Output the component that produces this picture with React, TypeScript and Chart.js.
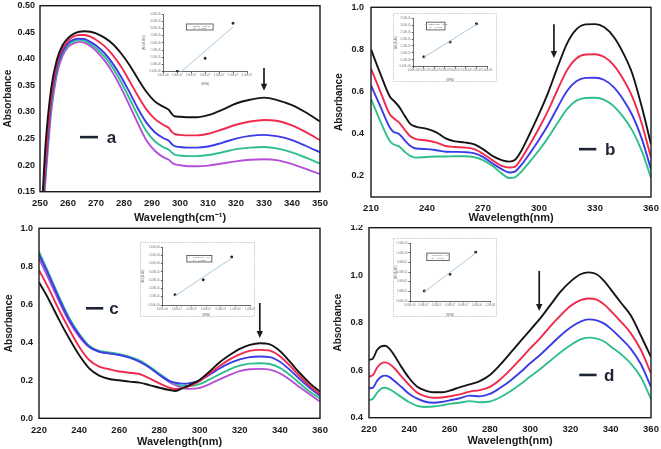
import React, { useEffect, useRef } from "react";
import { Chart, registerables } from "chart.js";
Chart.register(...registerables);

const FONT = "'Liberation Sans', Arial, Helvetica, sans-serif";
const INK = "#1a1a1a";
const SERIES_COLORS = ["#151515", "#f02a4c", "#3b3be8", "#2fbf8c", "#b54fd8"];

// ---------- Panel a ----------
const waveA = [251, 252, 254, 256, 258, 260, 262, 264, 266, 268, 270, 273, 276, 279, 282, 285, 288, 291, 294, 296, 297, 298, 300, 303, 306, 310, 315, 320, 325, 330, 335, 340, 345, 350];
const aBlack = [0.15, 0.24, 0.345, 0.398, 0.425, 0.439, 0.447, 0.451, 0.452, 0.451, 0.448, 0.44, 0.428, 0.41, 0.388, 0.362, 0.338, 0.32, 0.31, 0.304, 0.297, 0.292, 0.291, 0.29, 0.29, 0.294, 0.304, 0.316, 0.323, 0.327, 0.322, 0.313, 0.299, 0.282];
const aRed = [0.13, 0.21, 0.33, 0.39, 0.419, 0.434, 0.442, 0.445, 0.445, 0.442, 0.436, 0.424, 0.407, 0.385, 0.358, 0.33, 0.305, 0.287, 0.276, 0.27, 0.263, 0.259, 0.257, 0.256, 0.256, 0.259, 0.267, 0.276, 0.282, 0.285, 0.283, 0.275, 0.262, 0.247];
const aBlue = [0.12, 0.195, 0.32, 0.383, 0.413, 0.429, 0.436, 0.438, 0.437, 0.432, 0.425, 0.411, 0.391, 0.366, 0.337, 0.306, 0.28, 0.262, 0.251, 0.246, 0.24, 0.236, 0.234, 0.233, 0.233, 0.235, 0.242, 0.25, 0.255, 0.257, 0.254, 0.247, 0.236, 0.224];
const aGreen = [0.11, 0.185, 0.31, 0.378, 0.41, 0.426, 0.433, 0.436, 0.434, 0.428, 0.42, 0.404, 0.383, 0.356, 0.325, 0.293, 0.264, 0.245, 0.234, 0.229, 0.224, 0.22, 0.218, 0.217, 0.217, 0.219, 0.224, 0.23, 0.233, 0.234, 0.231, 0.224, 0.214, 0.203];
const aMagenta = [0.1, 0.175, 0.3, 0.37, 0.405, 0.422, 0.429, 0.432, 0.43, 0.424, 0.415, 0.397, 0.374, 0.345, 0.312, 0.278, 0.247, 0.227, 0.215, 0.21, 0.205, 0.202, 0.2, 0.198, 0.198, 0.199, 0.203, 0.207, 0.21, 0.211, 0.209, 0.202, 0.193, 0.183];

// ---------- Panel b ----------
const waveB = [210, 215, 220, 222, 225, 228, 231, 234, 240, 245, 250, 255, 260, 265, 270, 275, 280, 284, 287, 290, 295, 300, 305, 310, 315, 320, 325, 330, 335, 340, 345, 350, 355, 360];
const bBlack = [0.8, 0.685, 0.578, 0.558, 0.529, 0.486, 0.447, 0.434, 0.423, 0.407, 0.378, 0.364, 0.359, 0.351, 0.327, 0.295, 0.275, 0.268, 0.275, 0.311, 0.399, 0.494, 0.598, 0.717, 0.828, 0.895, 0.919, 0.92, 0.905, 0.86, 0.785, 0.685, 0.53, 0.35];
const bRed = [0.709, 0.6, 0.494, 0.475, 0.454, 0.42, 0.388, 0.375, 0.368, 0.358, 0.342, 0.337, 0.335, 0.328, 0.305, 0.275, 0.248, 0.24, 0.243, 0.275, 0.348, 0.426, 0.512, 0.61, 0.701, 0.757, 0.776, 0.777, 0.764, 0.726, 0.661, 0.575, 0.45, 0.287];
const bBlue = [0.629, 0.53, 0.431, 0.41, 0.399, 0.37, 0.343, 0.33, 0.327, 0.322, 0.315, 0.314, 0.313, 0.308, 0.29, 0.26, 0.232, 0.216, 0.22, 0.246, 0.306, 0.372, 0.444, 0.526, 0.603, 0.649, 0.665, 0.666, 0.655, 0.621, 0.564, 0.488, 0.378, 0.232];
const bGreen = [0.566, 0.46, 0.367, 0.35, 0.34, 0.315, 0.295, 0.287, 0.29, 0.292, 0.292, 0.293, 0.293, 0.29, 0.275, 0.248, 0.212, 0.19, 0.193, 0.215, 0.267, 0.322, 0.383, 0.452, 0.517, 0.557, 0.57, 0.571, 0.561, 0.531, 0.481, 0.415, 0.32, 0.192];

// ---------- Panel c ----------
const waveC = [220, 225, 230, 235, 240, 245, 250, 255, 260, 265, 270, 275, 280, 285, 288, 290, 293, 295, 300, 305, 310, 315, 320, 325, 330, 335, 340, 345, 350, 355, 360];
const cBlack = [0.716, 0.623, 0.518, 0.421, 0.333, 0.263, 0.225, 0.207, 0.2, 0.193, 0.188, 0.175, 0.161, 0.149, 0.144, 0.151, 0.165, 0.175, 0.202, 0.246, 0.295, 0.333, 0.365, 0.386, 0.395, 0.389, 0.354, 0.298, 0.237, 0.184, 0.14];
const cRed = [0.78, 0.68, 0.57, 0.47, 0.377, 0.307, 0.272, 0.258, 0.246, 0.24, 0.233, 0.21, 0.184, 0.161, 0.154, 0.155, 0.162, 0.17, 0.195, 0.235, 0.275, 0.31, 0.337, 0.355, 0.36, 0.356, 0.327, 0.277, 0.22, 0.17, 0.126];
const cBlue = [0.863, 0.75, 0.63, 0.52, 0.439, 0.377, 0.351, 0.342, 0.333, 0.319, 0.298, 0.267, 0.228, 0.196, 0.187, 0.184, 0.182, 0.185, 0.2, 0.23, 0.262, 0.29, 0.31, 0.322, 0.325, 0.322, 0.298, 0.255, 0.205, 0.16, 0.118];
const cGreen = [0.877, 0.76, 0.64, 0.53, 0.445, 0.382, 0.355, 0.347, 0.338, 0.325, 0.305, 0.273, 0.234, 0.197, 0.183, 0.175, 0.17, 0.17, 0.18, 0.205, 0.232, 0.258, 0.277, 0.288, 0.29, 0.286, 0.265, 0.228, 0.183, 0.14, 0.105];
const cMagenta = [0.842, 0.73, 0.615, 0.51, 0.43, 0.375, 0.35, 0.342, 0.335, 0.322, 0.302, 0.27, 0.23, 0.19, 0.174, 0.165, 0.157, 0.155, 0.16, 0.18, 0.205, 0.228, 0.248, 0.258, 0.26, 0.256, 0.237, 0.203, 0.163, 0.125, 0.088];

// ---------- Panel d ----------
const waveD = [220, 222, 224, 226, 228, 230, 233, 236, 240, 244, 248, 252, 256, 260, 265, 270, 275, 280, 285, 290, 295, 300, 305, 310, 315, 320, 325, 329, 333, 337, 340, 345, 350, 355, 360];
const dBlack = [0.643, 0.65, 0.685, 0.7, 0.703, 0.692, 0.657, 0.615, 0.566, 0.53, 0.514, 0.507, 0.507, 0.514, 0.528, 0.54, 0.554, 0.58, 0.622, 0.671, 0.72, 0.769, 0.818, 0.874, 0.93, 0.973, 1.004, 1.012, 1.004, 0.973, 0.94, 0.885, 0.83, 0.745, 0.655];
const dRed = [0.573, 0.58, 0.61, 0.628, 0.633, 0.627, 0.605, 0.575, 0.537, 0.505, 0.49, 0.484, 0.485, 0.49, 0.498, 0.51, 0.516, 0.53, 0.56, 0.6, 0.645, 0.692, 0.735, 0.785, 0.83, 0.87, 0.895, 0.902, 0.897, 0.875, 0.85, 0.805, 0.755, 0.685, 0.587];
const dBlue = [0.524, 0.527, 0.555, 0.572, 0.577, 0.572, 0.552, 0.53, 0.5, 0.48, 0.467, 0.463, 0.466, 0.473, 0.482, 0.493, 0.49, 0.5, 0.525, 0.555, 0.59, 0.629, 0.665, 0.705, 0.745, 0.78, 0.805, 0.814, 0.81, 0.795, 0.775, 0.735, 0.69, 0.625, 0.53];
const dGreen = [0.474, 0.48, 0.505, 0.522, 0.526, 0.52, 0.505, 0.487, 0.465, 0.45, 0.445, 0.447, 0.452, 0.458, 0.463, 0.47, 0.465, 0.468, 0.485, 0.51, 0.54, 0.573, 0.605, 0.64, 0.675, 0.705, 0.73, 0.737, 0.733, 0.72, 0.7, 0.668, 0.628, 0.57, 0.479];

// ---------- Insets ----------
const insetAX = [1.0e-7, 3.0e-7, 5.0e-7];
const insetAY = [0.2e-6, 9.3e-6, 33.6e-6];
const insetAXTicks = [0, 1e-7, 2e-7, 3e-7, 4e-7, 5e-7, 6e-7];
const insetAYTicks = [0, 5e-6, 1e-5, 1.5e-5, 2e-5, 2.5e-5, 3e-5, 3.5e-5, 4e-5];

const insetBX = [2.0e-7, 7.0e-7, 1.2e-6];
const insetBY = [0.0715, 0.1785, 0.31];
const insetBXTicks = [0, 2e-7, 4e-7, 6e-7, 8e-7, 1e-6, 1.2e-6, 1.4e-6];
const insetBYTicks = [0, 0.05, 0.1, 0.15, 0.2, 0.25, 0.3, 0.35];

const insetCX = [1.74e-7, 5.6e-7, 9.5e-7];
const insetCY = [0.248, 0.608, 1.16];
const insetCXTicks = [0, 2e-7, 4e-7, 6e-7, 8e-7, 1e-6, 1.2e-6];
const insetCYTicks = [0, 0.2, 0.4, 0.6, 0.8, 1.0, 1.2, 1.4];

const insetDX = [2.14e-7, 6.0e-7, 9.86e-7];
const insetDY = [0.208, 0.556, 1.014];
const insetDXTicks = [0, 2e-7, 4e-7, 6e-7, 8e-7, 1e-6, 1.2e-6];
const insetDYTicks = [0, 0.2, 0.4, 0.6, 0.8, 1.0, 1.2];

function fmtE(v: number) {
  if (Math.abs(v) < 1e-15) return "0.00E+00";
  const [m, e] = v.toExponential(2).split("e");
  const sign = e[0] === "-" ? "-" : "+";
  return `${m}E${sign}${e.replace(/[+-]/, "").padStart(2, "0")}`;
}

type PanelSpec = {
  x: number[];
  series: number[][];
  xMin: number; xMax: number; xStep: number;
  yMin: number; yMax: number; yStep: number; yDec: number; yHideBelow?: number;
  xTitle: string;
  yW: number; xH: number; padTop: number; padRight: number;
  xTitleOff: number; yTitleOff: number; yTickPad: number;
  arrow: [number, number, number];
  label: { text: string; y: number; x1: number; x2: number; tx: number };
};

function buildPanel(p: PanelSpec): any {
  const decor = {
    id: "panelDecor",
    afterDatasetsDraw(chart: any) {
      const { ctx, chartArea: ca } = chart;
      const xs = chart.scales.x, ys = chart.scales.y;
      ctx.save();
      ctx.strokeStyle = INK;
      ctx.lineWidth = 1.4;
      ctx.strokeRect(ca.left, ca.top, ca.right - ca.left, ca.bottom - ca.top);
      // arrow
      const ax = xs.getPixelForValue(p.arrow[0]);
      const ay1 = ys.getPixelForValue(p.arrow[1]);
      const ay2 = ys.getPixelForValue(p.arrow[2]);
      const head = 7, hw = 3.2;
      ctx.lineWidth = 1.7;
      ctx.fillStyle = INK;
      ctx.beginPath(); ctx.moveTo(ax, ay1); ctx.lineTo(ax, ay2 - head + 1); ctx.stroke();
      ctx.beginPath(); ctx.moveTo(ax - hw, ay2 - head); ctx.lineTo(ax + hw, ay2 - head); ctx.lineTo(ax, ay2); ctx.closePath(); ctx.fill();
      // label
      const ly = ys.getPixelForValue(p.label.y);
      ctx.strokeStyle = "#1c2433";
      ctx.lineWidth = 2.6;
      ctx.beginPath();
      ctx.moveTo(xs.getPixelForValue(p.label.x1), ly);
      ctx.lineTo(xs.getPixelForValue(p.label.x2), ly);
      ctx.stroke();
      ctx.fillStyle = "#1c2433";
      ctx.font = `bold 17px ${FONT}`;
      ctx.textAlign = "left";
      ctx.textBaseline = "alphabetic";
      ctx.fillText(p.label.text, xs.getPixelForValue(p.label.tx), ly + 6);
      ctx.restore();
    },
  };
  return {
    type: "line",
    data: {
      datasets: p.series.map((ys, i) => ({
        data: p.x.map((xv, j) => ({ x: xv, y: ys[j] })),
        borderColor: SERIES_COLORS[i],
        borderWidth: 1.9,
        pointRadius: 0,
        cubicInterpolationMode: "monotone",
        fill: false,
      })),
    },
    plugins: [decor],
    options: {
      animation: false,
      responsive: false,
      events: [],
      layout: { padding: { top: p.padTop, right: p.padRight, left: 0, bottom: 0 } },
      plugins: { legend: { display: false }, tooltip: { enabled: false } },
      scales: {
        x: {
          type: "linear",
          min: p.xMin,
          max: p.xMax,
          ticks: { stepSize: p.xStep, font: { family: FONT, size: 9.5, weight: "bold" }, color: INK, padding: 6, maxRotation: 0, autoSkip: false },
          grid: { display: false, drawTicks: false },
          border: { display: false },
          title: { display: true, text: p.xTitle, color: INK, font: { family: FONT, size: 11, weight: "bold" }, padding: { top: 0, bottom: Math.max(0, p.xTitleOff - 6.6) } },
          afterFit: (s: any) => { s.height = p.xH; s.paddingLeft = 0; s.paddingRight = 0; },
        },
        y: {
          type: "linear",
          min: p.yMin,
          max: p.yMax,
          afterBuildTicks: (axis: any) => {
            if (p.yHideBelow !== undefined) axis.ticks = axis.ticks.filter((t: any) => t.value >= p.yHideBelow!);
          },
          ticks: { stepSize: p.yStep, font: { family: FONT, size: 9, weight: "bold" }, color: INK, padding: p.yTickPad, callback: (v: any) => Number(v).toFixed(p.yDec) },
          grid: { display: false, drawTicks: false },
          border: { display: false },
          title: { display: true, text: "Absorbance", color: INK, font: { family: FONT, size: 10, weight: "bold" }, padding: { top: Math.max(0, p.yTitleOff - 6), bottom: 0 } },
          afterFit: (s: any) => { s.width = p.yW; s.paddingTop = 0; s.paddingBottom = 0; },
        },
      },
    },
  };
}

type InsetSpec = {
  px: number[]; py: number[]; xTicks: number[]; yTicks: number[];
  yW: number; xH: number; padTop: number; padRight: number; border: boolean;
  legend: [number, number, number, number];
  eq: string; r2: string; yTitle: string;
};

function buildInset(p: InsetSpec): any {
  const n = p.px.length;
  const mx = p.px.reduce((a, b) => a + b, 0) / n;
  const my = p.py.reduce((a, b) => a + b, 0) / n;
  let sxy = 0, sxx = 0;
  for (let i = 0; i < n; i++) { sxy += (p.px[i] - mx) * (p.py[i] - my); sxx += (p.px[i] - mx) ** 2; }
  const slope = sxy / sxx;
  const icpt = my - slope * mx;
  const trend = [p.px[0], p.px[n - 1]].map((xv) => ({ x: xv, y: icpt + slope * xv }));
  const decor = {
    id: "insetDecor",
    afterDraw(chart: any) {
      const { ctx, chartArea: ca, width, height } = chart;
      ctx.save();
      if (p.border) {
        ctx.strokeStyle = "#cfcfcf";
        ctx.lineWidth = 1;
        ctx.setLineDash([2, 1]);
        ctx.strokeRect(0.5, 0.5, width - 1, height - 1);
        ctx.setLineDash([]);
      }
      const w = ca.right - ca.left, h = ca.bottom - ca.top;
      const [fx, fy, fw, fh] = p.legend;
      const lx = ca.left + fx * w, ly = ca.top + fy * h, lw = fw * w, lh = fh * h;
      ctx.fillStyle = "#fff";
      ctx.fillRect(lx, ly, lw, lh);
      ctx.strokeStyle = "#444";
      ctx.lineWidth = 0.8;
      ctx.strokeRect(lx, ly, lw, lh);
      ctx.fillStyle = "#555";
      ctx.font = `2.4px ${FONT}`;
      ctx.textAlign = "center";
      ctx.textBaseline = "middle";
      ctx.fillText(p.eq, lx + lw / 2, ly + lh * 0.32);
      ctx.fillText(p.r2, lx + lw / 2, ly + lh * 0.7);
      ctx.restore();
    },
  };
  const tickFont = { family: FONT, size: 2.6 };
  return {
    type: "scatter",
    data: {
      datasets: [
        { type: "line", data: trend, borderColor: "#a9c7dd", borderWidth: 1, pointRadius: 0, fill: false },
        { data: p.px.map((xv, i) => ({ x: xv, y: p.py[i] })), backgroundColor: "#222", borderColor: "#222", pointRadius: 1.2, pointStyle: "rect" },
      ],
    },
    plugins: [decor],
    options: {
      animation: false,
      responsive: false,
      events: [],
      layout: { padding: { top: p.padTop, right: p.padRight, left: 0, bottom: 0 } },
      plugins: { legend: { display: false }, tooltip: { enabled: false } },
      scales: {
        x: {
          type: "linear",
          min: p.xTicks[0],
          max: p.xTicks[p.xTicks.length - 1],
          afterBuildTicks: (axis: any) => { axis.ticks = p.xTicks.map((v) => ({ value: v })); },
          ticks: { font: tickFont, color: "#777", padding: 1, maxRotation: 0, autoSkip: false, callback: (v: any) => fmtE(Number(v)) },
          grid: { display: true, drawOnChartArea: false, drawTicks: true, tickLength: 1.5, color: "#555" },
          border: { color: "#444", width: 0.8 },
          title: { display: true, text: "[BPA]", color: "#777", font: { family: FONT, size: 3 }, padding: { top: 0.5, bottom: 0.5 } },
          afterFit: (s: any) => { s.height = p.xH; s.paddingLeft = 0; s.paddingRight = 0; },
        },
        y: {
          type: "linear",
          min: p.yTicks[0],
          max: p.yTicks[p.yTicks.length - 1],
          afterBuildTicks: (axis: any) => { axis.ticks = p.yTicks.map((v) => ({ value: v })); },
          ticks: { font: tickFont, color: "#777", padding: 1, autoSkip: false, callback: (v: any) => fmtE(Number(v)) },
          grid: { display: true, drawOnChartArea: false, drawTicks: true, tickLength: 1.5, color: "#555" },
          border: { color: "#444", width: 0.8 },
          title: { display: true, text: p.yTitle, color: "#777", font: { family: FONT, size: 3 }, padding: { top: 1, bottom: 0 } },
          afterFit: (s: any) => { s.width = p.yW; s.paddingTop = 0; s.paddingBottom = 0; },
        },
      },
    },
  };
}

function ChartCanvas({ left, top, w, h, make, bg }: { left: number; top: number; w: number; h: number; make: () => any; bg?: string }) {
  const ref = useRef<HTMLCanvasElement>(null);
  useEffect(() => {
    const chart = new Chart(ref.current as HTMLCanvasElement, make());
    return () => chart.destroy();
  }, []);
  return (
    <canvas
      ref={ref}
      width={w}
      height={h}
      style={{ position: "absolute", left, top, width: w, height: h, background: bg || "transparent" }}
    />
  );
}

const panelA: PanelSpec = {
  x: waveA, series: [aBlack, aRed, aBlue, aGreen, aMagenta],
  xMin: 250, xMax: 350, xStep: 10, yMin: 0.15, yMax: 0.5, yStep: 0.05, yDec: 2,
  xTitle: "Wavelength(cm\u207B\u00B9)",
  yW: 40, xH: 33.3, padTop: 5.7, padRight: 10, xTitleOff: 7, yTitleOff: 8.5, yTickPad: 5,
  arrow: [330, 0.383, 0.34],
  label: { text: "a", y: 0.2527, x1: 264.3, x2: 270.7, tx: 273.8 },
};
const panelB: PanelSpec = {
  x: waveB, series: [bBlack, bRed, bBlue, bGreen],
  xMin: 210, xMax: 360, xStep: 30, yMin: 0.1, yMax: 1.0, yStep: 0.2, yDec: 1, yHideBelow: 0.15,
  xTitle: "Wavelength(nm)",
  yW: 41, xH: 28, padTop: 7.3, padRight: 10, xTitleOff: 7, yTitleOff: 9.5, yTickPad: 7,
  arrow: [308, 0.92, 0.76],
  label: { text: "b", y: 0.327, x1: 321.4, x2: 330.7, tx: 335.4 },
};
const panelC: PanelSpec = {
  x: waveC, series: [cBlack, cRed, cBlue, cGreen, cMagenta],
  xMin: 220, xMax: 360, xStep: 20, yMin: 0, yMax: 1.0, yStep: 0.2, yDec: 1,
  xTitle: "Wavelength(nm)",
  yW: 39, xH: 30.7, padTop: 3.3, padRight: 10, xTitleOff: 7.3, yTitleOff: 9, yTickPad: 6,
  arrow: [330, 0.607, 0.423],
  label: { text: "c", y: 0.579, x1: 243.4, x2: 252, tx: 255 },
};
const panelD: PanelSpec = {
  x: waveD, series: [dBlack, dRed, dBlue, dGreen],
  xMin: 220, xMax: 360, xStep: 20, yMin: 0.4, yMax: 1.2, yStep: 0.2, yDec: 1,
  xTitle: "Wavelength(nm)",
  yW: 39, xH: 31.3, padTop: 2.7, padRight: 10, xTitleOff: 8, yTitleOff: 8.5, yTickPad: 6,
  arrow: [304.5, 1.018, 0.849],
  label: { text: "d", y: 0.58, x1: 324.4, x2: 333, tx: 336.7 },
};

const insetA: InsetSpec = {
  px: insetAX, py: insetAY, xTicks: insetAXTicks, yTicks: insetAYTicks,
  yW: 22.3, xH: 14.3, padTop: 8, padRight: 3.7, border: false,
  legend: [0.275, 0.173, 0.32, 0.104], eq: "y = 83.25x - 6.0E-06", r2: "R\u00B2 = 0.9025", yTitle: "[A0/(A-A0)]",
};
const insetB: InsetSpec = {
  px: insetBX, py: insetBY, xTicks: insetBXTicks, yTicks: insetBYTicks,
  yW: 20.3, xH: 15.3, padTop: 5.3, padRight: 10, border: true,
  legend: [0.18, 0.08, 0.25, 0.16], eq: "y = 2.38E+05x + 0.02", r2: "R\u00B2 = 0.9986", yTitle: "A0/(A-A0)",
};
const insetC: InsetSpec = {
  px: insetCX, py: insetCY, xTicks: insetCXTicks, yTicks: insetCYTicks,
  yW: 22.3, xH: 12, padTop: 3.7, padRight: 5, border: true,
  legend: [0.28, 0.145, 0.285, 0.113], eq: "y = 1.17E+06x - 0.0", r2: "R\u00B2 = 0.9832", yTitle: "A0/(A-A0)",
};
const insetD: InsetSpec = {
  px: insetDX, py: insetDY, xTicks: insetDXTicks, yTicks: insetDYTicks,
  yW: 17, xH: 16, padTop: 5.3, padRight: 7, border: true,
  legend: [0.21, 0.17, 0.28, 0.13], eq: "y = 1.04E+06x - 0.0", r2: "R\u00B2 = 0.9917", yTitle: "A0/(A-A0)",
};

export default function App() {
  useEffect(() => {
    document.body.style.margin = "0";
  }, []);
  return (
    <div style={{ position: "absolute", left: 0, top: 0, width: 661, height: 449, background: "#fff", overflow: "hidden" }}>
      <ChartCanvas left={0} top={0} w={330} h={225} make={() => buildPanel(panelA)} />
      <ChartCanvas left={330} top={0} w={331} h={225} make={() => buildPanel(panelB)} />
      <ChartCanvas left={0} top={225} w={330} h={224} make={() => buildPanel(panelC)} />
      <ChartCanvas left={330} top={225} w={331} h={224} make={() => buildPanel(panelD)} />
      <ChartCanvas left={141} top={6} w={111} h={80} make={() => buildInset(insetA)} />
      <ChartCanvas left={393} top={13} w={104} h={69} make={() => buildInset(insetB)} bg="#fff" />
      <ChartCanvas left={140} top={242} w={115} h={75} make={() => buildInset(insetC)} bg="#fff" />
      <ChartCanvas left={393} top={238} w={104} h={79} make={() => buildInset(insetD)} bg="#fff" />
    </div>
  );
}
